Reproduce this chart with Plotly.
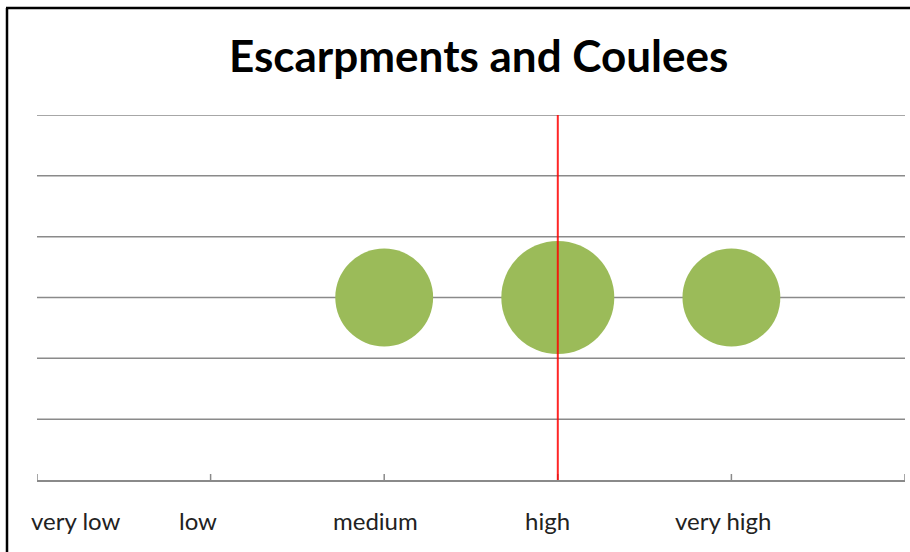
import plotly.graph_objects as go

# Rating scale along the x axis
levels = ["very low", "low", "medium", "high", "very high"]
level_label_x = [0.22, 0.93, 1.95, 2.94, 3.95]
tick_positions = [0, 1, 2, 3, 4, 5]
grid_levels = [1, 2, 3, 4, 5, 6]

# Bubble series
bubble_x = [2, 3, 4]
bubble_y = [3, 3, 3]
bubble_size = [3, 4, 3]

# Reference marker on the scale
threshold_x = 3

W, H = 910, 552
ML, MR, MT, MB = 37, 5, 115, 72
plot_w = W - ML - MR
plot_h = H - MT - MB

FONT = "Lato, 'Open Sans', sans-serif"
GRID = "#8a8a8a"

max_diam = 113
sizeref = 2.0 * max(bubble_size) / (max_diam ** 2)

fig = go.Figure()
fig.add_trace(go.Scatter(
    x=bubble_x, y=bubble_y, mode="markers",
    marker=dict(size=bubble_size, sizemode="area", sizeref=sizeref,
                color="#9BBB59", line=dict(width=0), opacity=1),
    hoverinfo="skip", showlegend=False,
))

shapes = []

# Horizontal gridlines
for g in grid_levels:
    shapes.append(dict(type="line", xref="x", yref="y", x0=0, x1=5, y0=g, y1=g,
                       line=dict(color=GRID, width=1.5), layer="below"))

# Axis tick marks pointing upward from the baseline
for t in tick_positions:
    shapes.append(dict(type="line", xref="x", yref="y", x0=t, x1=t,
                       ysizemode="pixel", yanchor=0, y0=0, y1=6,
                       line=dict(color=GRID, width=1.5), layer="below"))

# Threshold marker
shapes.append(dict(type="line", xref="x", yref="y", x0=threshold_x, x1=threshold_x,
                   y0=0, y1=6, line=dict(color="rgba(255,0,0,0.85)", width=2),
                   layer="above"))

# Frame: left and top edges of the chart border
def px_to_paper_x(px):
    return (px - ML) / plot_w

def px_to_paper_y(py):
    return (H - MB - py) / plot_h

shapes.append(dict(type="line", xref="paper", yref="paper",
                   x0=px_to_paper_x(7), x1=px_to_paper_x(7),
                   y0=px_to_paper_y(8), y1=px_to_paper_y(H + 5),
                   line=dict(color="#000", width=2.5)))
shapes.append(dict(type="line", xref="paper", yref="paper",
                   x0=px_to_paper_x(6), x1=px_to_paper_x(W + 5),
                   y0=px_to_paper_y(8), y1=px_to_paper_y(8),
                   line=dict(color="#000", width=2.5)))

annotations = [
    dict(x=lx, y=px_to_paper_y(520), xref="x", yref="paper", text=t,
         showarrow=False, font=dict(family=FONT, size=24, color="#222"),
         xanchor="center", yanchor="middle")
    for lx, t in zip(level_label_x, levels)
]
annotations.append(dict(
    x=px_to_paper_x(479), y=px_to_paper_y(55), xref="paper", yref="paper",
    text="<b>Escarpments and Coulees</b>", showarrow=False,
    font=dict(family=FONT, size=44, color="#000"),
    xanchor="center", yanchor="middle"))

fig.update_layout(
    width=W, height=H,
    margin=dict(l=ML, r=MR, t=MT, b=MB, pad=0),
    paper_bgcolor="white", plot_bgcolor="white",
    xaxis=dict(range=[0, 5], showticklabels=False, ticks="",
               showgrid=False, zeroline=False, showline=True,
               linecolor=GRID, linewidth=1.5, fixedrange=True),
    yaxis=dict(range=[0, 6], showticklabels=False, ticks="",
               showgrid=False, zeroline=False,
               showline=False, fixedrange=True),
    shapes=shapes,
    annotations=annotations,
    showlegend=False,
)

fig.write_html("out.html", config={"displayModeBar": False})
